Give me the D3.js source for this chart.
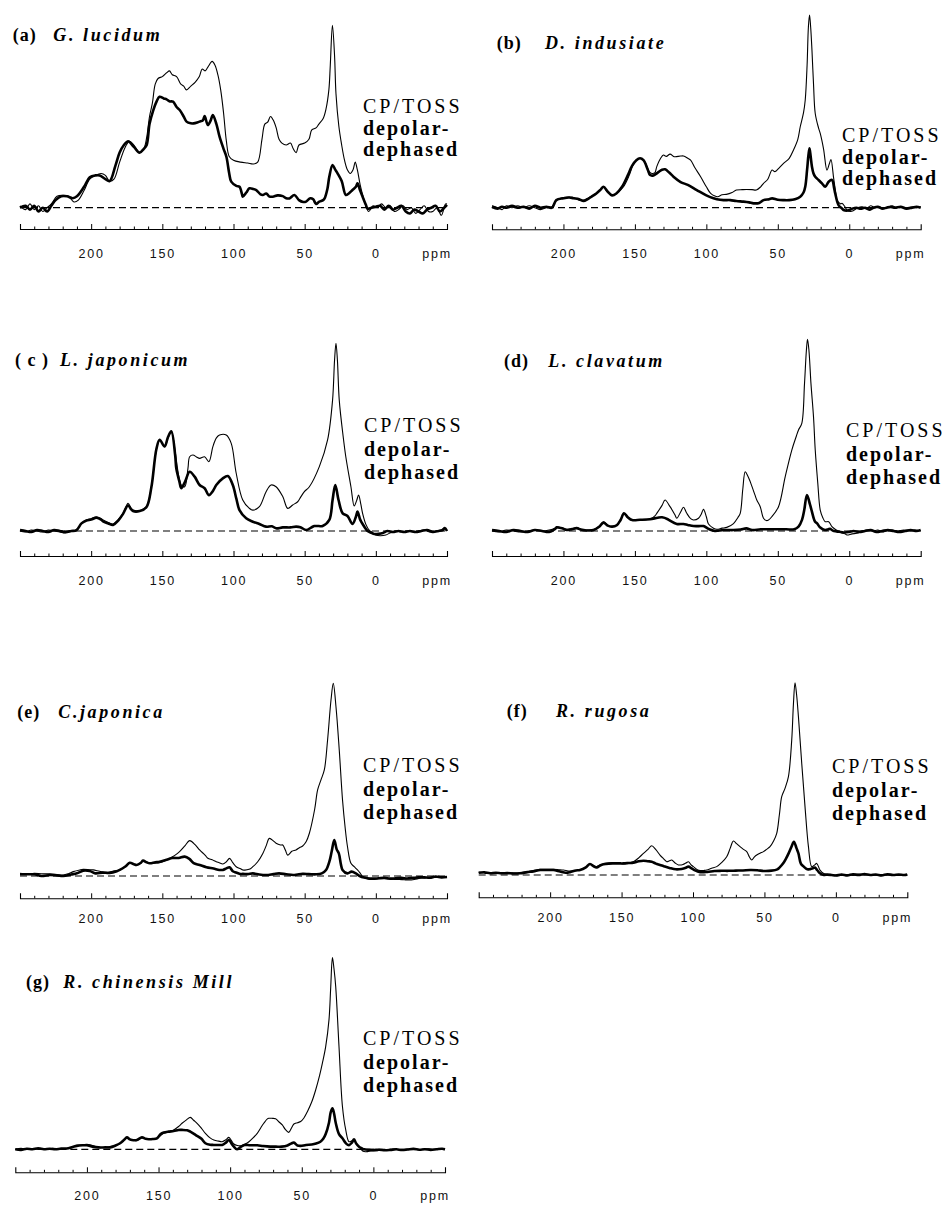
<!DOCTYPE html>
<html>
<head>
<meta charset="utf-8">
<script src="https://cdn.jsdelivr.net/npm/d3@7"></script>
<style>
  html, body { margin: 0; padding: 0; background: #fff; }
  svg { display: block; }
</style>
</head>
<body>
<svg id="chart" width="947" height="1206"></svg>
<script>
// 13C solid-state NMR spectra: CP/TOSS (thin) and depolar-dephased (thick),
// chemical shift in ppm, intensity in relative units (tallest CP/TOSS peak ~100).

const panelLetters = ["(a)", "(b)", "( c )", "(d)", "(e)", "(f)", "(g)"];
const speciesNames = ["G. lucidum", "D. indusiate", "L. japonicum", "L. clavatum", "C.japonica", "R. rugosa", "R. chinensis Mill"];
const legendLines = ["CP/TOSS", "depolar-", "dephased"];
const ppmDomain = [250, -50];
const majorTicks = [200, 150, 100, 50, 0];
const axisUnit = "ppm";

// (a) G. lucidum
const cpA = [[250,1],[246,-1],[243,2],[240,-1],[237,1],[234,-2],[231,0],[228,2],[224,6],[220,6.5],[216,6],[212,3],[209,4],[205,9],[201,15],[197,17],[193,18],[190,17],[187,14],[184,15],[180,24],[176,32],[173,35],[170,33],[166,29],[163,31],[161,37],[159,48],[157,55],[155,65],[153,68],[150,69],[147,71],[145,72],[143,70],[140,69],[137,65],[135,64],[133,62],[130,64],[127,66],[124,69],[122,73],[120,72],[118,74],[115,77],[113,75],[111,70],[109,62],[107,50],[105,35],[103,27],[100,25],[95,24],[90,23.5],[86,23],[83,24],[80,36],[78,44],[76,45],[74,48],[72,46],[70,42],[68,36],[66,34],[63,33],[60,34],[58,31],[56,29],[54,33],[50,34],[47,36],[45,41],[42,42],[40,44],[37,47],[35,52],[33,62],[32,75],[30.5,96],[29,80],[28,60],[26,43],[24,33],[22,25],[20,20],[18,18],[16,20],[14.5,24],[13,20],[11,12],[9,6],[7,1],[5,-2],[2,1],[-1,0],[-4,2],[-7,0],[-10,1],[-13,-2],[-16,-1],[-19,1],[-22,-1],[-25,0],[-28,-3],[-31,-1],[-34,1],[-37,-2],[-40,-2],[-43,0],[-46,-4],[-49,2],[-50,2]];
const ddA = [[250,0],[246,1],[243,-1],[240,1],[237,-2],[234,0],[231,-2],[228,1],[225,4],[221,6],[217,6],[213,5],[210,6],[205,11],[201,16],[197,17],[194,17],[190,15],[187,14],[183,22],[180,29],[177,33],[174,35],[170,32],[166,29],[163,31],[161,33],[159,44],[156.5,51],[154,56],[152,58.4],[149,57.5],[147,57],[145,56],[142.5,55.8],[140,53],[137.8,51.4],[135,48],[133,45.3],[130,44.4],[128,44.4],[125,45],[123.8,45.3],[121.5,46],[120.3,48.2],[118,43.5],[116,46],[114.5,48.8],[112,44],[109.8,37.4],[107,31],[105,26.8],[103,18],[101.6,13.7],[98,11.5],[95.8,11],[94,7],[93.5,5.8],[91,8],[88.8,10.2],[86,9.8],[84,9.3],[81,7],[79.4,6.7],[77,7.5],[75,6],[72.4,5.8],[69,6.5],[65.4,6.1],[63,5],[60.7,4.9],[57.2,6.7],[54,4],[51,3],[49,3.2],[46,5],[44,4.4],[42,2],[39.7,3.2],[37,4],[36,4.9],[34,10],[32.7,16.3],[30.4,22.5],[28.5,20],[26.9,18.1],[24,14],[21.1,6.7],[19,7.5],[16.4,9.3],[14,11],[12.9,12.8],[11,9],[9.3,5.8],[7,1.5],[5.8,-0.5],[3,0],[0,0.5],[-3,1],[-6,-1],[-9,1],[-12,-1],[-15,0],[-18,1],[-21,-2],[-24,-3],[-27,-1],[-30,-2],[-33,-3],[-36,-1],[-39,0],[-42,1],[-45,-2],[-48,0],[-50,1.5]];

// (b) D. indusiate
const cpB = [[250,1],[246,0],[243,-1],[240,1],[236,0],[232,1],[228,0],[224,1],[220,0],[216,-1],[212,0],[208,0.5],[205,4],[200,5.3],[196,5.6],[193,5.4],[189,4],[186,4],[183,5],[181,5.8],[177,7.5],[174,9.5],[172,11],[169,8],[165,6.7],[162,8],[158,11],[154,17],[151,23],[148,25.5],[146,26],[143,24],[140,19],[138,18],[136,18.5],[134.7,21.6],[132,26],[130,27.7],[128,27],[125.4,28.2],[123,27],[121.8,26.8],[118,27.2],[116,27.2],[113,26],[111,25],[108,21],[104,16.3],[100,11],[97,7.5],[94,6.1],[92,5.8],[89,6.8],[86,7],[82,8],[79,9.3],[75,9.5],[72,9.6],[68,9.5],[65,9.3],[62,11],[60,12.8],[57,15],[54,19.8],[52,19],[49,21],[46,23.3],[42,26],[39,30.4],[36,36],[34.3,42.6],[32,50],[30.8,56.7],[29.5,75],[28.6,95],[27.8,101.4],[27,95],[26.1,83],[25,65],[23.8,49.6],[21.5,42],[20.3,39.1],[18,31],[15.6,19.8],[14,23],[12.8,25.4],[11,16],[9.5,8],[8.6,4],[6,2],[5.1,2.3],[3,0.5],[1.6,-1.2],[-1,-2],[-3,-1.5],[-6,0],[-9,0.5],[-12,-0.5],[-15,1],[-18,0],[-21,0.5],[-24,-0.5],[-27,0],[-30,1],[-33,0],[-36,0.5],[-40,0],[-44,0.5],[-47,0],[-50,0.5]];
const ddB = [[250,0.5],[246,-0.5],[243,0.5],[240,0],[236,1],[232,0],[228,0.5],[224,-0.5],[220,1],[216,0],[212,0.5],[208,0],[205,4],[200,5],[196,5.4],[193,5],[189,4.5],[186,3.5],[183,4.5],[181,5.5],[177,7.5],[174,9.5],[172,11],[169,8.5],[166,6.5],[163,7.5],[159,11],[155,17],[152,22],[149,25],[146.4,26],[144,25],[141,20],[139.4,17.2],[137,17],[134,18.5],[131,20],[128.9,20.2],[126,18.5],[123,16.3],[118,13.5],[113,12],[106.7,9.3],[100,6.5],[95,5],[92.7,4.5],[88,4],[83.3,4],[79,3.5],[74,3.2],[70,2.8],[67,2.3],[63,2.5],[60,4],[56,4.5],[54,4.9],[50,4.2],[46,4],[42,4],[38,4.5],[34.3,5.8],[32,8],[30.8,11],[29.5,20],[28.5,28],[27.8,31.2],[27,27],[26.1,21.6],[25,18],[23.8,16.3],[21.5,14.6],[19.1,12.8],[16.8,11],[14.4,13.7],[12.1,14.6],[10.5,10],[9.8,7.5],[7.5,1.4],[5,-0.5],[4,-1.2],[1,-1.5],[-2,-0.5],[-5,0],[-8,-0.5],[-11,0],[-14,-1],[-17,0],[-20,0.5],[-23,-0.5],[-26,0],[-29,0.5],[-32,0],[-36,0.5],[-40,-0.5],[-44,0],[-47,0.5],[-50,0]];

// (c) L. japonicum
const cpC = [[250,0],[246,-0.5],[242,0.5],[238,0],[234,-0.5],[230,0.5],[226,0],[222,-0.5],[218,-1],[214,0],[210.3,0.5],[206.8,4],[203.3,5.8],[200,6.5],[196.3,7.5],[193,6.5],[191.6,5.8],[188,4.5],[184.6,3.7],[181,6],[177.6,9.3],[174.1,14.6],[172,12],[170.6,11],[165.9,10.7],[161.2,12.8],[157.7,23.3],[154.2,42.6],[151.9,47.9],[148.4,44.4],[146,49],[143.7,52.3],[141,42],[140.2,37.4],[136.7,24.2],[134.3,23.3],[132,33],[130.8,39.1],[128.5,40],[126,39],[123.8,38.2],[120.3,39.1],[117.3,36.5],[114.5,44.4],[112,49],[109.8,50.5],[105.1,50.5],[101.6,46.1],[98.1,30.4],[93.5,16.3],[89,12],[86.4,11],[81.8,12.8],[77.1,20.7],[73.6,24.2],[70.1,23.3],[65.4,18.1],[61.9,11.9],[58.4,13.7],[54.9,15.4],[52.6,18.1],[50.2,20.7],[46.7,23.3],[39.7,33.9],[33.9,47.9],[30.4,68.9],[29,90],[28,98.8],[27,90],[25.7,68.9],[23,50],[21.1,39.1],[17.5,23.3],[15.2,13.2],[13.5,16],[12.1,18.9],[10.5,14],[9.3,9.3],[7,3.5],[4.7,0.5],[2,-1],[0,-2.1],[-3,-2.5],[-7,-2.1],[-10,-1],[-14,0],[-18,-0.5],[-22,0],[-26,-0.5],[-30,0],[-34,0.5],[-38,-0.5],[-42,0],[-46,0.5],[-48,1.5],[-50,0]];
const ddC = [[250,0.5],[246,0],[242,-0.5],[238,0.5],[234,0],[230,-0.5],[226,0.5],[222,0],[218,-0.5],[214,0],[210.3,0.5],[206.8,4],[203.3,5.5],[200,6],[196.3,7],[193,6],[191.6,5],[188,4],[184.6,3.2],[181,5.5],[177.6,9],[174.1,13.5],[172,11.5],[170.6,10.5],[165.9,10.5],[161.2,12.5],[157.7,23],[154.2,43],[151.9,48],[148.4,44.5],[146,49.5],[143.7,52.5],[141,40],[140.2,33],[138,26],[136.7,22.5],[134,26],[130.8,31.2],[127.3,28.6],[123.8,24.2],[120.3,22.5],[117.3,18.9],[114.5,21],[112.1,24.2],[107.5,27.7],[104,28.9],[100.5,24.2],[98,17],[95.8,11],[91.1,6.7],[86.4,4.9],[81.8,3.7],[77.1,2.3],[73,2.5],[70.1,1.4],[65.4,1.9],[60,1.9],[56,2.3],[53,2],[49,0.5],[45,2],[43.2,2.6],[40,2.6],[37.4,2.6],[32.7,5.8],[30.4,16.3],[28.5,24.2],[26.2,16.3],[23.3,9.3],[19.9,7.9],[16.4,3.7],[14,7.5],[12.9,10.2],[11,6],[9.3,3.7],[5.8,0],[3,-1],[1.1,-1.6],[-2,-1.5],[-5,-1],[-8,0],[-12,-0.5],[-16,0],[-20,-0.5],[-24,0],[-28,-0.5],[-32,0],[-36,0.5],[-40,-0.5],[-44,0],[-47,0.5],[-48.5,1.5],[-50,0]];

// (d) L. clavatum
const cpD = [[250,0],[245,-0.5],[240,0.5],[235,0],[230,-0.5],[225,0],[220,0.5],[215,0],[210,0.5],[206,1.5],[204.7,2.3],[201,1.5],[197.7,0.9],[194,1.2],[190.7,1.8],[188,1],[186,0.5],[182,0.5],[179,0.5],[175,2.5],[172,4.9],[169,3],[167.4,2.3],[162.7,3.2],[160,6],[157.6,9.3],[155,7],[153.4,5.8],[150,5.8],[146.4,5.8],[142,6],[139.4,6.3],[136,8],[134.7,9.3],[131,13.5],[128.9,16.3],[125.4,12.8],[122,8.5],[120.7,6.7],[118,10],[116,12.5],[113.7,9.3],[111,6.5],[109,5.8],[105.5,6.7],[103.5,9],[102,11.4],[100,7.5],[98.5,3.7],[95,1.5],[92.7,0.9],[89,1.5],[85.7,1.9],[81,3.9],[78,7],[76.3,9.3],[74.5,22],[72.8,31.2],[71,29],[69.3,26],[66,19],[64.7,16.3],[62.3,12.8],[60,6.7],[58,5.5],[56.5,5.8],[54.2,7.5],[49.5,12.8],[44.8,28.6],[40.2,42.6],[37,50],[35.5,53.2],[33.2,56.7],[31.3,77.7],[30,95],[29.2,100.9],[28.2,95],[26.8,77.7],[25,60],[23.8,42.6],[22,25],[20.3,11],[18.5,7],[16.8,4.9],[14.4,4.9],[12.1,2.3],[9,0.5],[6.3,-0.7],[3,-1.5],[1.6,-2.1],[-2,-1.5],[-5.4,-1.2],[-9,0],[-13,0.5],[-17,0],[-20,0.5],[-23,-0.5],[-26,0],[-30,0.5],[-34,0],[-38,0.5],[-42,0],[-46,0.5],[-50,0]];
const ddD = [[250,0.5],[245,0],[240,-0.5],[235,0.5],[230,0],[225,-0.5],[220,0.5],[215,0],[210,-0.5],[206,1],[204.7,1.8],[201,1.5],[197.7,0.5],[194,1],[190.7,1.5],[188,0.8],[184,0.3],[179,0.5],[175,2.2],[172,4.4],[169,2.8],[166,2.3],[162.7,3],[160,5.8],[157.6,9.3],[155,7.2],[152,5.8],[146.4,5.9],[139.4,6.2],[134,7],[131,7.2],[127,6.2],[125.4,5.4],[120.7,3.7],[116,3.7],[113,3.2],[109,2.6],[104,2.6],[102,2.6],[98,0.9],[94,0],[88,0.5],[81,0.5],[76,0.8],[72,1.4],[68,0.5],[62,0.9],[56,0.9],[50,0.9],[44,0.9],[38.5,0.9],[35.5,2.3],[33,6],[31.5,11],[29.6,18.9],[27.5,14],[26.4,11],[24,5],[22.5,4],[20.3,1.8],[17,0.5],[14.6,0.9],[13.5,1.2],[11.5,0.2],[9,-0.2],[6,-0.5],[3,-0.8],[0,-0.5],[-3,0],[-7,-0.5],[-11,0],[-15,0.5],[-19,-0.5],[-23,0],[-27,0.5],[-31,0],[-35,-0.5],[-39,0],[-43,0.5],[-47,0],[-50,0.5]];

// (e) C. japonica
const cpE = [[250,1.4],[245,1],[240,1.4],[235,1.2],[229,1.1],[224,0.8],[219.6,0.5],[216,1.2],[212.6,2.3],[208,3.2],[205.6,3.5],[201,3.3],[198.6,3.2],[194,2.5],[189.3,1.9],[185,2.5],[179.9,3.2],[176,5],[172.9,7],[170,6.3],[168.2,5.8],[165,7],[163.6,8.1],[161,7.2],[158.9,6.7],[155,6.8],[151.9,7],[148,8],[144.9,9.3],[141,11],[137.9,12.8],[134,16],[130.8,18.6],[127,16.5],[123.8,13.7],[120,11],[118,9.3],[115,8.5],[112.1,7.5],[110,7],[107.5,6.3],[105,7.5],[102.8,9.3],[100.5,7],[98.1,4.9],[95,3.8],[93.5,3.2],[89,3.5],[86.4,4.9],[83,7.5],[79.4,11.9],[77,16],[74.8,19.8],[72,18.5],[70.1,17.2],[67,16.3],[65.4,16.3],[63.5,13.5],[61.9,11],[59,13],[56.1,13.7],[53.5,15],[51.4,15.8],[49,18],[46.7,22.5],[43,35],[40.9,45.3],[38.6,50.5],[36.2,55.8],[33.9,71.6],[31.5,92.6],[29.9,101.4],[28,89.1],[25.7,66.3],[23.4,40],[21.5,25],[19.9,15.4],[17.5,6.7],[15.2,4.9],[12.9,3.2],[11,1.5],[9.3,-0.4],[7,-1.2],[4.7,-1.8],[0,-1.5],[-4.7,-1.2],[-9,-1.5],[-13,-1.8],[-16.4,-1.8],[-20,-2],[-23.4,-2.1],[-27,-1.8],[-31,-1.2],[-34,-1],[-37.4,-0.7],[-41,-0.7],[-45,-0.5],[-49,-0.4],[-50,-0.3]];
const ddE = [[250,0.9],[245,0.9],[240,0.9],[235,0],[229,0.5],[224,0.3],[219.6,0],[214,0.8],[210,1.4],[205.6,2.8],[201,2.6],[197,1.4],[192,1.8],[187,1.6],[182,2.5],[179.9,3.2],[176,5],[172.9,7],[170,6.2],[168.2,5.8],[165,7],[163.6,8.1],[161,7.2],[158.9,6.7],[155,7.2],[151.9,7.5],[147,8.5],[143,9.5],[138.5,9.5],[134.3,10.2],[131,9],[128,6.8],[123.8,5.8],[119,4.6],[114,3.9],[110,3.2],[107.5,3.2],[105,4],[102.8,4.6],[100.5,2.5],[98.1,1.8],[95,1],[93.5,1.1],[90,1],[86.4,1.4],[82,0.8],[77,0.5],[72,1],[68,1.4],[63,0.9],[58,0.5],[55,0.8],[51.4,1.1],[47,1],[42,0.9],[38,1.4],[35,3.2],[32.5,8],[31,13],[29.2,18.9],[27.5,14],[26,11.9],[24.5,6],[23.4,3.2],[20,1.4],[17,2.3],[14,1.4],[11,-0.2],[9,-0.7],[6,-1.2],[2,-1.4],[-2,-1.2],[-6,-1],[-10,-1.4],[-14,-1.2],[-18,-1],[-22,-1.3],[-26,-1],[-30,-0.7],[-34,-0.7],[-38,-0.9],[-42,-0.3],[-46,-0.7],[-50,-0.5]];

// (f) R. rugosa
const cpF = [[250,1.4],[245,1.2],[240,0.9],[236,1],[232.7,0.9],[228,1.2],[225,1],[221.1,1.2],[216,1.8],[211.7,2.3],[207,3],[202,3],[197.7,3],[194,2.8],[190.7,2.6],[186.1,2.1],[182,2.4],[179.1,2.6],[175,4],[172.1,5.8],[169.5,5],[167.4,4.4],[165,5.2],[162.7,5.8],[159,6.3],[155.7,6.5],[152,6.3],[148.7,5.8],[145,6.3],[141.7,7],[138,9],[134.7,11.4],[131.5,13.5],[128.9,15.4],[126,13.3],[123.1,10.5],[120.5,8.5],[118.4,7],[116.5,7.5],[114.9,7.9],[112.5,6.3],[110.2,5.3],[107,5.5],[105,6.3],[103.2,7],[101.5,5.5],[99.7,4.4],[97,2.8],[95,2.3],[92.5,2.4],[90.4,2.6],[87,3.5],[83.4,4.4],[80,6.5],[76.4,9.6],[74,14],[71.7,17.9],[69.5,16.5],[67.1,14.9],[64.7,13.5],[62.4,12.3],[60.5,9.5],[58.9,7.9],[57,9.5],[55.4,10.5],[53,11.5],[50.7,12.3],[48.5,13.5],[46.1,14.9],[43.5,18],[41.4,21.9],[39.5,32],[37.9,41.2],[35.6,45.6],[33.2,51.8],[30.9,71],[29.7,90],[28.6,101.2],[27.5,95],[26.2,83.3],[23.9,58.8],[21.6,36],[19.2,14.9],[16.9,4.4],[15,5.2],[13.4,6.1],[11.1,2.6],[8.5,0.8],[6.4,0.4],[3,0],[-0.6,-0.4],[-4,-0.2],[-8,0.2],[-12,-0.2],[-16,0.5],[-19,0],[-23,0.3],[-27,-0.1],[-31,0.2],[-35,0],[-39,0.3],[-43,-0.2],[-47,0.2],[-50,0]];
const ddF = [[250,1.2],[246,1.4],[242,0.9],[238,1.2],[234,0.9],[230,1],[226,0.8],[221.1,0.9],[216,1.5],[211.7,1.9],[207,2.6],[202,2.6],[197.7,2.6],[193,1.8],[189,1.2],[186.1,1.5],[182,2.4],[179.1,2.6],[175,4],[172.1,5.8],[169.5,4.5],[167.4,4],[165,5],[162.7,5.6],[159,6],[155.7,6.1],[152,6.1],[148.7,6.1],[145,6.3],[141.7,6.5],[138,7.2],[134.7,7.5],[131.5,7.2],[128.9,7],[126,6],[123.1,5.3],[120,4.5],[116,3.6],[112,3],[108,3.2],[105,3.8],[103.2,4.4],[101,3.5],[99,2.6],[95,1.5],[90,1.6],[85,2.1],[80,2.2],[75,2.2],[70,2.3],[65,2.4],[60,2.6],[55,2.5],[50,2.1],[45,2.3],[41,3],[39.5,3.9],[37,6],[35,8.5],[33,11.5],[31,15],[29.4,17.5],[27.5,14],[26.2,11.4],[24.5,6],[22.5,4.4],[20,3],[18,3.1],[16,3.5],[14.6,3.9],[13,2.5],[11.1,0.9],[8.5,0],[6,0.2],[3,0],[0,-0.3],[-4,0.3],[-8,-0.2],[-12,0.4],[-16,0],[-20,0.5],[-24,0],[-28,0.3],[-32,-0.2],[-36,0.4],[-40,0],[-44,0.2],[-48,0],[-50,0.3]];

// (g) R. chinensis Mill
const cpG = [[250,0],[246,0.5],[242,0],[238,0.3],[232.7,0.5],[228,0],[224,0.5],[219,0.2],[214.1,0.4],[210,1],[207.1,2.1],[203,2.3],[200.1,2.6],[197,2.2],[195.4,1.8],[190.8,0.9],[187,1.2],[183.8,1.4],[180,2],[176.8,3.2],[174,5],[172.1,6.3],[170,5.2],[168.6,4.9],[165.1,4.6],[161.6,6.3],[159,5.5],[156.9,5.3],[154,5.4],[151.1,5.8],[149,7],[146.4,8.4],[143,9.2],[139.4,10.2],[136,12],[133.6,13.7],[130.5,15.5],[127.8,16.8],[125.5,15.3],[123.1,13.7],[120,11],[117.3,8.4],[114,6],[111.4,4.9],[108,4.3],[105.6,4],[103,5],[100.9,6.3],[99,4.4],[97.4,2.8],[95,2],[92.8,1.8],[89.5,2.8],[86.9,4],[84,6],[81.1,8.4],[78.5,11.5],[76.5,13.7],[74,16],[73,16.3],[70.5,16.3],[68.3,16.1],[66,14.5],[63.6,12.8],[61.5,10.5],[59.1,8.9],[57,11.5],[55.5,13.3],[53,14],[50.8,14.6],[48.5,16.5],[46.1,19.8],[43,25],[40.3,31.2],[37.5,39],[35.6,45.3],[33.3,54],[31,68.1],[29.8,85],[28.6,100.9],[27.5,95],[26.3,85.6],[24,54],[21.6,22.5],[19.3,10.2],[17,4],[15,4.5],[13.5,4.9],[11.8,2.8],[10,1.4],[8,-0.5],[6.5,-1.2],[4,-1.2],[1.8,-0.9],[-2,-0.8],[-5,-0.5],[-7.5,-0.4],[-11,-0.3],[-15,0],[-19,-0.2],[-23,0],[-27,0.2],[-31,-0.2],[-35,0],[-39,0.2],[-43,-0.1],[-47,0],[-50,-0.2]];
const ddG = [[250,0],[246,-0.3],[242,0.3],[238,0],[234,0.5],[230,0],[226,0.3],[222,0],[218,0.4],[214.1,0.4],[210,1.2],[207.1,1.8],[203,2.1],[200.1,2.1],[196,1.4],[192,1],[187,1],[183.8,1],[180,2],[176.8,3.2],[174,5],[172.1,6.3],[170,5.2],[168.6,4.9],[165.1,4.9],[161.6,6.3],[159,5.5],[156.9,5.3],[154,5.4],[151.1,5.8],[148.5,8],[146.4,8.8],[143,9.3],[139.4,9.6],[136,10.2],[133.6,10.2],[130,10],[127.8,9.3],[124,7.5],[120,5.5],[117.3,3.2],[114,2.4],[111.4,2.3],[108,2.3],[105.6,2.3],[103,3.5],[100.9,4.9],[99,3],[97.4,1.4],[95.2,0],[93,1],[90,2.3],[86,2.1],[81,2.1],[77,1.7],[72,1.4],[68,1.4],[64,1.4],[60,2],[57.5,3],[55.5,3.5],[53,2],[50.8,1.8],[47,2.3],[43,2.5],[40,3],[37,4],[35,5.5],[33.3,8],[31,14],[29.8,19.5],[28.6,21.6],[27.5,19],[26.3,14],[24,8],[21.6,5.8],[19,3],[17,2.2],[15,3.5],[13.5,5.3],[12,3],[10,1.4],[8,0.5],[6.5,0],[3,-0.3],[0,-0.4],[-4,-0.2],[-8,-0.5],[-12,-0.3],[-16,0],[-20,-0.4],[-24,-0.1],[-28,0.2],[-32,-0.2],[-36,0],[-40,-0.3],[-44,0],[-48,0.3],[-50,0]];

const cpSeries = [cpA, cpB, cpC, cpD, cpE, cpF, cpG];
const ddSeries = [ddA, ddB, ddC, ddD, ddE, ddF, ddG];

// Panel geometry: axis span, axis line, zero line, title and legend placement
const layout = [
  { x0: 20,    x1: 447,   axisY: 229,    zeroY: 207.7,  tx: 12.7,  ty: 41,  sx: 53.3,  lx: 363, ly: 113,  lg: 21.5, lab: 29 },
  { x0: 492,   x1: 920.7, axisY: 229.3,  zeroY: 207.7,  tx: 496.7, ty: 49,  sx: 545,   lx: 842, ly: 142,  lg: 21.5, lab: 29 },
  { x0: 20,    x1: 447,   axisY: 556,    zeroY: 531,    tx: 15,    ty: 366, sx: 60,    lx: 364, ly: 432,  lg: 23.5, lab: 29 },
  { x0: 492,   x1: 920.7, axisY: 556,    zeroY: 531,    tx: 504,   ty: 367, sx: 548.3, lx: 846, ly: 437,  lg: 23.5, lab: 29 },
  { x0: 20,    x1: 447,   axisY: 898.3,  zeroY: 876,    tx: 17.3,  ty: 718, sx: 58.3,  lx: 363, ly: 772,  lg: 23.5, lab: 25 },
  { x0: 478.7, x1: 907.3, axisY: 897.3,  zeroY: 875,    tx: 506.7, ty: 717, sx: 556,   lx: 832, ly: 773,  lg: 23.5, lab: 25 },
  { x0: 15.3,  x1: 445,   axisY: 1172.3, zeroY: 1149.3, tx: 26,    ty: 988, sx: 63.3,  lx: 363, ly: 1045, lg: 23.5, lab: 28 }
];
const fullScalePx = 190;

const svg = d3.select("#chart");
svg.append("rect").attr("width", 947).attr("height", 1206).attr("fill", "#fff");

const serif = "'Liberation Serif', 'Times New Roman', serif";
const sans = "'Liberation Sans', Arial, sans-serif";

layout.forEach((p, i) => {
  const g = svg.append("g").attr("class", "panel");

  const x = d3.scaleLinear().domain(ppmDomain).range([p.x0, p.x1]);
  const y = d3.scaleLinear().domain([0, 100]).range([p.zeroY, p.zeroY - fullScalePx]);

  // Zero-intensity reference line
  g.append("line")
    .attr("x1", x(ppmDomain[0])).attr("x2", x(ppmDomain[1]))
    .attr("y1", y(0)).attr("y2", y(0))
    .attr("stroke", "#000").attr("stroke-width", 1.2)
    .attr("stroke-dasharray", "7,4");

  const line = d3.line()
    .x(d => x(d[0])).y(d => y(d[1]))
    .curve(d3.curveCatmullRom.alpha(0.5));

  g.append("path").datum(cpSeries[i])
    .attr("d", line).attr("fill", "none")
    .attr("stroke", "#000").attr("stroke-width", 1.1)
    .attr("stroke-linejoin", "round");

  g.append("path").datum(ddSeries[i])
    .attr("d", line).attr("fill", "none")
    .attr("stroke", "#000").attr("stroke-width", 2.6)
    .attr("stroke-linejoin", "round");

  // Chemical shift axis: minor ticks every 10 ppm, labelled majors every 50 ppm
  const minor = d3.range(-40, 250, 10).filter(v => v % 50 !== 0);
  const minorAxis = d3.axisBottom(x).tickValues(minor).tickSizeInner(-2.5).tickSizeOuter(0).tickFormat("");
  g.append("g").attr("transform", `translate(0,${p.axisY})`).call(minorAxis)
    .call(s => s.select(".domain").remove())
    .call(s => s.selectAll("line").attr("stroke", "#000").attr("stroke-width", 1));

  const majorAxis = d3.axisBottom(x).tickValues(majorTicks)
    .tickSizeInner(-5).tickSizeOuter(-5).tickPadding(p.lab - 9)
    .tickFormat(d3.format("d"));
  const ax = g.append("g").attr("transform", `translate(0,${p.axisY})`).call(majorAxis);
  ax.select(".domain").attr("stroke", "#000").attr("stroke-width", 1.1);
  ax.selectAll(".tick line").attr("stroke", "#000").attr("stroke-width", 1);
  ax.selectAll(".tick text")
    .attr("fill", "#111")
    .attr("font-family", sans).attr("font-size", 12.5)
    .attr("letter-spacing", 1.8);

  g.append("text")
    .attr("x", x(ppmDomain[1]) - 10).attr("y", p.axisY + p.lab)
    .attr("text-anchor", "middle")
    .attr("font-family", sans).attr("font-size", 12.5)
    .attr("letter-spacing", 1.8).attr("fill", "#111")
    .text(axisUnit);

  // Panel title: letter in bold, species in bold italic
  g.append("text")
    .attr("x", p.tx).attr("y", p.ty)
    .attr("font-family", serif).attr("font-size", 18).attr("font-weight", "bold")
    .attr("letter-spacing", 1)
    .text(panelLetters[i]);
  g.append("text")
    .attr("x", p.sx).attr("y", p.ty)
    .attr("font-family", serif).attr("font-size", 18).attr("font-weight", "bold")
    .attr("font-style", "italic").attr("letter-spacing", 2.6)
    .text(speciesNames[i]);

  // Spectrum legend text
  legendLines.forEach((t, k) => {
    g.append("text")
      .attr("x", p.lx).attr("y", p.ly + k * p.lg)
      .attr("font-family", serif).attr("font-size", 20)
      .attr("font-weight", k === 0 ? "normal" : "bold")
      .attr("letter-spacing", k === 0 ? 3 : 2)
      .text(t);
  });
});
</script>
</body>
</html>
